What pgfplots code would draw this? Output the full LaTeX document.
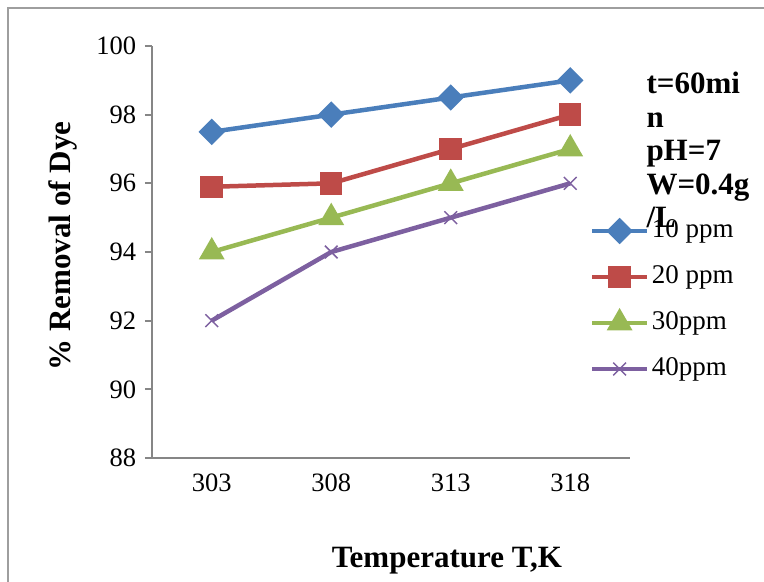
\documentclass[border=0pt]{standalone}
\usepackage{pgfplots}
\pgfplotsset{compat=1.18}
\usepackage{fontspec}
\setmainfont{Liberation Serif}
\definecolor{cblue}{HTML}{4A7EBB}
\definecolor{cred}{HTML}{BE4B48}
\definecolor{cgreen}{HTML}{98B954}
\definecolor{cpurple}{HTML}{7D60A0}
\definecolor{axgray}{HTML}{868686}
\begin{document}
\begin{tikzpicture}
\useasboundingbox (0,0) rectangle (305.6pt,232.8pt);
\draw[axgray!80, line width=0.8pt] (3.2pt,0) -- (3.2pt,229.6pt) -- (305.6pt,229.6pt);
\begin{axis}[
  at={(60.8pt,49.6pt)}, anchor=south west,
  scale only axis, width=191.2pt, height=164.8pt,
  xmin=-0.5, xmax=3.5, ymin=88, ymax=100,
  axis x line*=bottom, axis y line*=left,
  axis line style={axgray, line width=0.8pt},
  tick style={axgray, line width=0.8pt},
  tick align=outside,
  major tick length=2.8pt,
  xtick={0,1,2,3}, xticklabels={303,308,313,318},
  x tick style={draw=none},
  extra x ticks={-0.5,0.5,1.5,2.5,3.5}, extra x tick labels={},
  extra x tick style={tick style={axgray, line width=0.8pt, draw=axgray}},
  ytick={88,90,...,100},
  /pgf/number format/assume math mode=true,
  tick label style={font=\fontsize{10.6}{12}\selectfont},
  ylabel={\% Removal of Dye},
  xlabel={Temperature T,K},
  label style={font=\bfseries\fontsize{12.4}{14}\selectfont},
  xlabel style={at={(axis description cs:0.617,-0.2646)}, anchor=base},
  ylabel style={at={(axis description cs:-0.186,0.515)}, anchor=center},
  clip=false,
  legend cell align=left,
  legend style={draw=none, fill=none, inner sep=0pt, anchor=west,
    at={(axis description cs:0.915,0.3835)},
    font=\fontsize{10.8}{12}\selectfont,
    nodes={inner xsep=1pt, inner ysep=0pt, text height=7pt, text depth=2pt},
    row sep=9.4pt},
  legend image code/.code={\draw[mark repeat=2,mark phase=2,#1] plot coordinates {(0pt,0pt) (11pt,0pt) (22pt,0pt)};},
]
\addplot[cblue, line width=1.8pt, mark=square*, mark size=2.83pt, mark options={rotate=45, solid, fill=cblue}] coordinates {(0,97.5) (1,98) (2,98.5) (3,99)};
\addlegendentry{10 ppm}
\addplot[cred, line width=1.8pt, mark=square*, mark size=3.6pt, mark options={solid, fill=cred}] coordinates {(0,95.9) (1,96) (2,97) (3,98)};
\addlegendentry{20 ppm}
\addplot[cgreen, line width=1.8pt, mark=triangle*, mark size=4.2pt, mark options={solid, fill=cgreen}] coordinates {(0,94) (1,95) (2,96) (3,97)};
\addlegendentry{30ppm}
\addplot[cpurple, line width=1.8pt, mark=x, mark size=3.6pt, mark options={solid, line width=0.6pt}] coordinates {(0,92) (1,94) (2,95) (3,96)};
\addlegendentry{40ppm}
\node[anchor=north west, align=left, font=\bfseries\fontsize{12.4}{13.4}\selectfont, inner sep=0pt] at (axis description cs:1.0335,0.937) {t=60mi\\n\\pH=7\\W=0.4g\\/L};
\end{axis}
\end{tikzpicture}
\end{document}
